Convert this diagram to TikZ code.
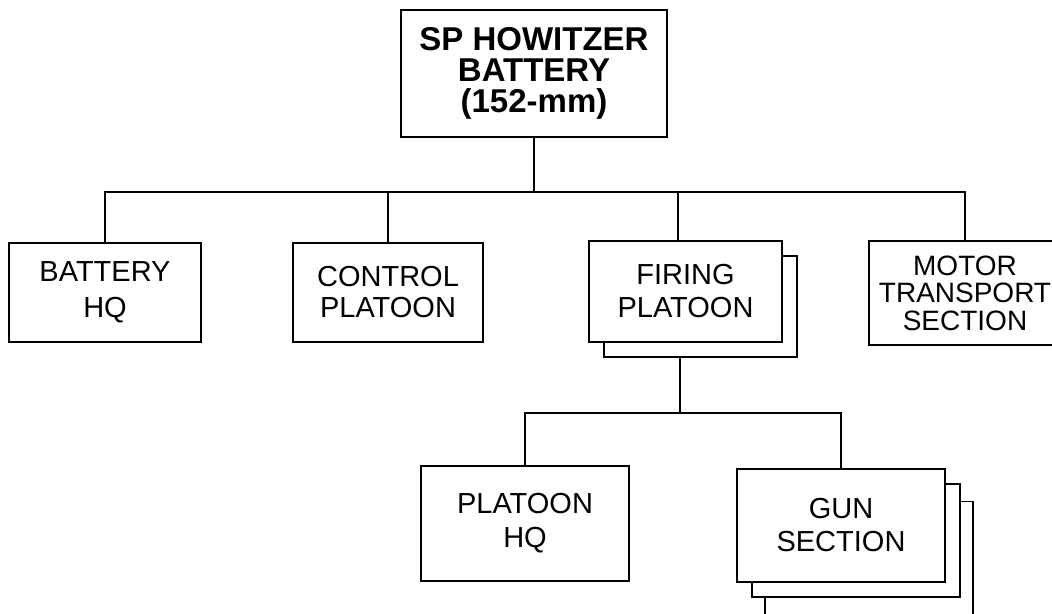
\documentclass[tikz,border=0pt]{standalone}
\usepackage{fontspec}
\setmainfont{Liberation Sans}
\usetikzlibrary{calc}
\tikzset{
  unit/.style={draw=black, line width=1.9pt, fill=white, inner sep=0pt, align=center,
    font=\fontsize{29}{33}\selectfont},
  conn/.style={line width=1.9pt, line cap=rect}
}
\begin{document}
\begin{tikzpicture}[x=1pt,y=-1pt]
\useasboundingbox (0,0) rectangle (1052,613);
\clip (0,0) rectangle (1052,613);
\fill[white] (0,0) rectangle (1052,613);
% top
\node[unit, minimum width=266pt, minimum height=127pt,
  font=\bfseries\fontsize{33}{31}\selectfont] (top) at (534,73.5) {SP HOWITZER\\BATTERY\\(152-mm)};
% second level
\node[unit, minimum width=192pt, minimum height=99pt,
  font=\fontsize{29}{36}\selectfont] (bhq) at (105,292.5) {BATTERY\\HQ};
\node[unit, minimum width=190pt, minimum height=99pt,
  font=\fontsize{29}{31}\selectfont] (cp) at (388,292.5) {CONTROL\\PLATOON};
\node[unit, minimum width=193pt, minimum height=101pt] (fps) at (700.5,306.5) {};
\node[unit, minimum width=193pt, minimum height=101pt] (fp) at (685.5,291.5) {FIRING\\PLATOON};
\node[unit, minimum width=192pt, minimum height=104pt,
  font=\fontsize{28}{27.5}\selectfont] (mt) at (965,293) {MOTOR\\TRANSPORT\\SECTION};
% third level
\node[unit, minimum width=208pt, minimum height=115pt,
  font=\fontsize{29}{34}\selectfont] (phq) at (525,523.5) {PLATOON\\HQ};
\node[unit, minimum width=208pt, minimum height=113pt] (gs3) at (869,558) {};
\node[unit, minimum width=208pt, minimum height=113pt] (gs2) at (856,540.5) {};
\node[unit, minimum width=208pt, minimum height=113pt] (gs) at (841,525.5) {GUN\\SECTION};
% connectors
\coordinate (j1) at (534,192);
\draw[conn] (top.south) -- (j1);
\draw[conn] (bhq.north) |- (j1) -| (mt.north);
\draw[conn] (cp.north) -- (cp.north |- j1);
\draw[conn] ($(fp.north)+(-7.5,0)$) -- ($(fp.north |- j1)+(-7.5,0)$);
\coordinate (j2) at (680,413);
\draw[conn] (fps.south -| j2) -- (j2);
\draw[conn] (phq.north) |- (j2) -| (gs.north);
\end{tikzpicture}
\end{document}
